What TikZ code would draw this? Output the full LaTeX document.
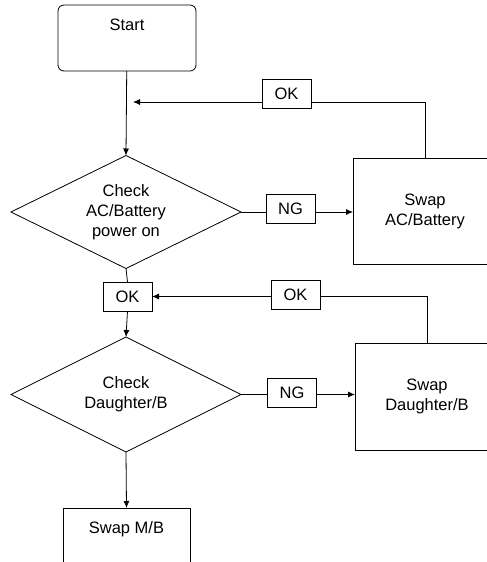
\documentclass[tikz,border=0pt]{standalone}
\usepackage{fontspec}
\setmainfont{Liberation Sans}
\usetikzlibrary{arrows.meta,positioning,shapes.geometric}
\tikzset{
  basebox/.style={draw,line width=0.8pt,outer sep=0pt,align=center,
    font=\fontsize{16.5}{20}\selectfont},
  termbox/.style={basebox,rounded corners=6pt,minimum width=138pt,
    minimum height=66pt,text height=11pt,text depth=27pt},
  swapbox/.style={basebox,minimum width=144pt,minimum height=106pt},
  endbox/.style={basebox,minimum width=127pt,minimum height=66pt,
    text height=11pt,text depth=27pt},
  checkbox/.style={basebox,diamond,aspect=2,inner sep=1pt,
    minimum width=230pt,minimum height=113pt},
  tagbox/.style={basebox,minimum width=49pt,minimum height=29pt,inner sep=1pt},
  arrow/.style={-{Latex[length=7pt,width=6pt]},line width=0.8pt}
}
\begin{document}
\begin{tikzpicture}[x=1pt,y=-1pt]
  \useasboundingbox (0,0) rectangle (487,562);
  \clip (0,0) rectangle (487,562);
  \node[termbox] (start) at (127,38) {Start};
  \node[checkbox] (chkpower) at (126,212) {Check\\AC/Battery\\power on};
  \node[tagbox] (okpower) at (286.5,94) {OK};
  \node[tagbox] (ngpower) at (290.5,208.5) {NG};
  \node[swapbox] (swapbatt) at (425,211) {Swap\\AC/Battery};
  \coordinate (retpower) at (133,102);
  \node[tagbox] (okjoin) at (127.5,296.5) {OK};
  \node[tagbox] (okdaughter) at (295.5,294.5) {OK};
  \node[checkbox,minimum height=115pt] (chkdaughter) at (126,394.5) {Check\\Daughter/B};
  \node[tagbox] (ngdaughter) at (292,393) {NG};
  \node[swapbox,minimum height=107pt] (swapdaughter) at (427,396.5) {Swap\\Daughter/B};
  \node[endbox] (swapmb) at (126.5,541) {Swap M/B};
  \draw[arrow] (start) -- (chkpower.north);
  \draw[line width=0.8pt] (swapbatt.north) |- (okpower.east |- retpower);
  \draw[arrow] (okpower.west |- retpower) -- (retpower);
  \draw[line width=0.8pt] (chkpower.east) -- (chkpower.east -| ngpower.west);
  \draw[arrow] (chkpower.east -| ngpower.east) -- (chkpower.east -| swapbatt.west);
  \draw[line width=0.8pt] (chkpower.south) -- (okjoin.north);
  \draw[arrow] (okjoin.south) -- (chkdaughter.north);
  \draw[line width=0.8pt] (swapdaughter.north) |- (okdaughter.east |- okjoin.east);
  \draw[arrow] (okdaughter.west |- okjoin.east) -- (okjoin.east);
  \draw[line width=0.8pt] (chkdaughter.east) -- (chkdaughter.east -| ngdaughter.west);
  \draw[arrow] (chkdaughter.east -| ngdaughter.east) -- (chkdaughter.east -| swapdaughter.west);
  \draw[arrow] (chkdaughter.south) -- (swapmb.north);
\end{tikzpicture}
\end{document}
